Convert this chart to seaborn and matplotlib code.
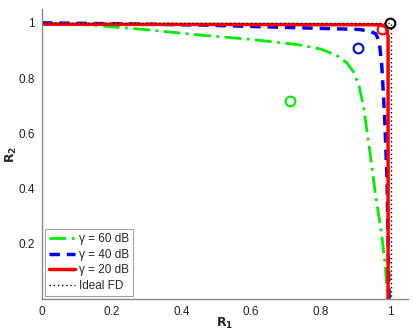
import numpy as np
import pandas as pd
import matplotlib
matplotlib.use("Agg")
import matplotlib.pyplot as plt
import seaborn as sns

# rate region curves
green_r1 = [0, 0.14, 0.30, 0.46, 0.60, 0.74, 0.80, 0.845, 0.875, 0.895, 0.91, 0.922, 0.937, 0.956, 0.975, 0.985, 0.992]
green_r2 = [1, 0.992, 0.975, 0.955, 0.94, 0.92, 0.905, 0.882, 0.855, 0.82, 0.77, 0.70, 0.568, 0.387, 0.229, 0.12, 0.0]
blue_r1 = [0, 0.46, 0.74, 0.91, 0.94, 0.958, 0.968, 0.975, 0.983, 0.99, 0.996]
blue_r2 = [1, 0.992, 0.982, 0.976, 0.97, 0.96, 0.93, 0.844, 0.663, 0.434, 0.0]
red_r1 = [0, 0.97, 0.988, 0.993, 0.993]
red_r2 = [0.995, 0.993, 0.985, 0.95, 0.0]
ideal_r1 = [0, 1, 1]
ideal_r2 = [1, 1, 0]

# single operating points (circles)
pt_green = (0.713, 0.717)
pt_blue = (0.907, 0.910)
pt_red = (0.975, 0.976)
pt_black = (0.999, 1.0)

labels = ["\u03b3 = 60 dB", "\u03b3 = 40 dB", "\u03b3 = 20 dB", "Ideal FD"]

sns.set_style("white")
plt.rcParams["font.family"] = ["Liberation Sans", "DejaVu Sans"]

fig = plt.figure(figsize=(4.15, 3.34), dpi=100)
ax = fig.add_axes([0.101, 0.105, 0.882, 0.868])

curves = [
    (green_r1, green_r2, "#00ee00", (0, (6, 2, 1, 2)), 2.0),
    (blue_r1, blue_r2, "#0000ff", (0, (3, 2)), 2.5),
    (red_r1, red_r2, "#ff0000", "-", 2.5),
    (ideal_r1, ideal_r2, "black", (0, (1, 2)), 1.0),
]
for (x, y, c, ls, lw), lab in zip(curves, labels):
    df = pd.DataFrame({"R1": x, "R2": y})
    sns.lineplot(data=df, x="R1", y="R2", sort=False, estimator=None, color=c,
                 linestyle=ls, linewidth=lw, label=lab, ax=ax)

for (px, py), c in zip([pt_green, pt_blue, pt_red, pt_black],
                       ["#00ee00", "#0000ff", "#ff0000", "black"]):
    ax.plot(px, py, "o", mfc="none", mec=c, ms=7, mew=1.5, clip_on=False)

ax.set_xlim(0, 1.05)
ax.set_ylim(0, 1.05)
ax.set_xticks([0, 0.2, 0.4, 0.6, 0.8, 1])
ax.set_xticklabels(["0", "0.2", "0.4", "0.6", "0.8", "1"])
ax.set_yticks([0.2, 0.4, 0.6, 0.8, 1])
ax.set_yticklabels(["0.2", "0.4", "0.6", "0.8", "1"])
ax.tick_params(direction="in", length=3, labelsize=8.5, colors="#222222", pad=5)
ax.set_xlabel(r"$\mathbf{R_1}$", fontsize=9)
ax.set_ylabel(r"$\mathbf{R_2}$", fontsize=9)
ax.xaxis.set_label_coords(0.5, -0.058)
ax.yaxis.set_label_coords(-0.062, 0.5)
sns.despine(ax=ax)
for s in ["left", "bottom"]:
    ax.spines[s].set_color("#888888")
    ax.spines[s].set_linewidth(1.0)

leg = ax.legend(loc="lower left", fontsize=8.5, frameon=True, fancybox=False,
                handlelength=2.2, handletextpad=0.3, labelspacing=0.3,
                borderpad=0.35, borderaxespad=0.25)
leg.get_frame().set_edgecolor("#888888")
leg.get_frame().set_linewidth(0.8)

fig.savefig("out.png", dpi=100)
